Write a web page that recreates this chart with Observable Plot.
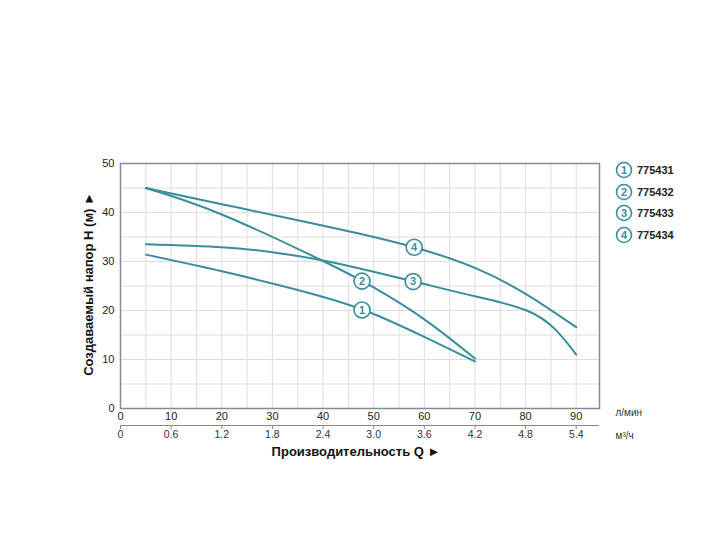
<!DOCTYPE html>
<html><head><meta charset="utf-8">
<script src="https://cdn.jsdelivr.net/npm/d3@7"></script>
<script src="https://cdn.jsdelivr.net/npm/@observablehq/plot@0.6"></script>
<style>
body{margin:0;background:#fff;font-family:"Liberation Sans",Arial,sans-serif;}
#wrap{position:relative;width:720px;height:535px;}
#legend{position:absolute;left:614px;top:159px;}
.row{display:flex;align-items:center;height:21.7px;}
.row span{font-size:11px;font-weight:bold;color:#222;margin-left:3px;}
</style></head><body><div id="wrap"></div>
<script>
const series = ["775431","775432","775433","775434"];
const labelNums = ["1","2","3","4"];
const q1 = [5,20,35,48,60,70];
const h1 = [31.4,28.0,24.2,20.1,14.6,9.6];
const q2 = [5,20,40,50,60,70];
const h2 = [45,39.6,30.1,24.7,18.2,10.2];
const q3 = [5,20,30,40,50,60,70,80,86,90];
const h3 = [33.5,32.9,31.9,30.2,27.9,25.4,22.9,20.1,16.0,11.0];
const q4 = [5,20,35,50,60,70,80,90];
const h4 = [45,41.7,38.4,35.0,32.3,28.7,23.4,16.6];
const labelQ = [47.7,47.7,57.8,58];
const labelH = [20.1,26.0,25.9,32.9];
const xTicks = [0,10,20,30,40,50,60,70,80,90];
const m3Ticks = ["0","0.6","1.2","1.8","2.4","3.0","3.6","4.2","4.8","5.4"];
const yTicks = [0,10,20,30,40,50];
const xGrid = [5,10,15,20,25,30,35,40,45,50,55,60,65,70,75,80,85,90];
const yGrid = [5,10,15,20,25,30,35,40,45];
const xMax = 94.6;
const teal = "#3a8d9c";

const qs=[q1,q2,q3,q4], hs=[h1,h2,h3,h4];
const lineData = [];
qs.forEach((q,s)=>q.forEach((v,i)=>lineData.push({s:series[s], q:v, h:hs[s][i]})));
const labels = labelQ.map((q,i)=>({q, h:labelH[i], t:labelNums[i]}));

const chart = Plot.plot({
  width:720, height:535,
  marginLeft:120, marginRight:121, marginTop:163, marginBottom:127,
  style:{fontFamily:'"Liberation Sans",Arial,sans-serif', background:"#fff"},
  x:{domain:[0,xMax]},
  y:{domain:[0,50]},
  marks:[
    Plot.ruleX(xGrid,{stroke:"#dedede", strokeWidth:1}),
    Plot.ruleY(yGrid,{stroke:"#dedede", strokeWidth:1}),
    Plot.frame({stroke:"#8a8a8a", strokeWidth:1.5}),
    Plot.line(lineData,{x:"q", y:"h", z:"s", stroke:teal, strokeWidth:2, curve:"natural"}),
    Plot.dot(labels,{x:"q", y:"h", r:8, fill:"white", stroke:teal, strokeWidth:1.6}),
    Plot.text(labels,{x:"q", y:"h", text:"t", fill:teal, fontSize:11, fontWeight:"bold"}),
    Plot.axisY({ticks:yTicks, tickSize:0, tickPadding:6, label:null, fontSize:11, fill:"#222"}),
    Plot.axisX({ticks:xTicks, tickSize:0, tickPadding:4, label:null, fontSize:11, fill:"#222"}),
    Plot.ruleY([0],{dy:17, stroke:"#8a8a8a", strokeWidth:1.2}),
    Plot.axisX({ticks:xTicks, tickFormat:(d,i)=>m3Ticks[i], tickSize:4, tickPadding:1, dy:17, label:null, fontSize:10.5, fill:"#333", stroke:"#8a8a8a"}),
    Plot.text(["Создаваемый напор H (м) ►"],{frameAnchor:"left", textAnchor:"middle", rotate:-90, dx:-32, dy:-2, fontSize:13, fontWeight:"bold", fill:"#111"}),
    Plot.text(["Производительность Q ►"],{frameAnchor:"bottom", textAnchor:"middle", dy:47, dx:-4, fontSize:13, fontWeight:"bold", fill:"#111"}),
    Plot.text(["л/мин"],{frameAnchor:"bottom-right", dx:16, dy:7, textAnchor:"start", fontSize:10, fill:"#333"}),
    Plot.text(["м³/ч"],{frameAnchor:"bottom-right", dx:16, dy:30, textAnchor:"start", fontSize:10, fill:"#333"})
  ]
});
const wrap = document.getElementById("wrap");
wrap.appendChild(chart);
const leg = document.createElement("div");
leg.id = "legend";
series.forEach((s,i)=>{
  const row = document.createElement("div");
  row.className = "row";
  row.innerHTML = `<svg width="20" height="20"><circle cx="10" cy="10" r="7.5" fill="white" stroke="${teal}" stroke-width="1.6"/><text x="10" y="10" dy="0.35em" text-anchor="middle" font-size="11" font-weight="bold" fill="${teal}" font-family="Liberation Sans, Arial, sans-serif">${labelNums[i]}</text></svg><span>${s}</span>`;
  leg.appendChild(row);
});
wrap.appendChild(leg);
</script>
</body></html>
